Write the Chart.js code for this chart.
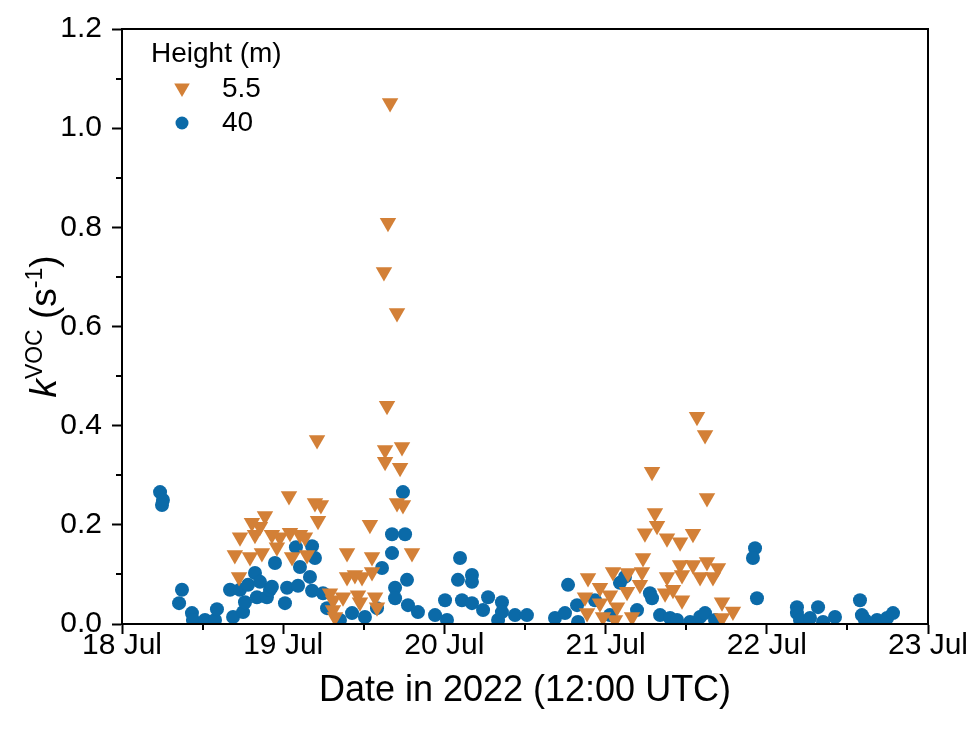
<!DOCTYPE html>
<html><head><meta charset="utf-8">
<script src="https://cdn.jsdelivr.net/npm/chart.js@4.4.0/dist/chart.umd.min.js"></script>
<style>html,body{margin:0;padding:0;background:#fff}#wrap{width:971px;height:731px;position:relative}</style>
</head><body><div id="wrap"><canvas id="c" width="971" height="731"></canvas></div>
<script>
// ---- data (x = days after 18 Jul 2022 12:00 UTC) ----
const xTickLabels = ['18 Jul','19 Jul','20 Jul','21 Jul','22 Jul','23 Jul'];
const yTickLabels = ['0.0','0.2','0.4','0.6','0.8','1.0','1.2'];
const legendTitle = 'Height (m)';
const seriesNames = ['5.5','40'];
const xTitle = 'Date in 2022 (12:00 UTC)';

const day55 = [0.70,0.726,0.732,0.794,0.806,0.825,0.856,0.868,0.887,0.93,0.961,0.98,1.036,1.042,1.055,1.104,1.135,1.148,1.21,1.197,1.234,1.216,
  1.29,1.309,1.309,1.371,1.396,1.396,1.445,1.464,1.476,1.489,1.538,1.551,1.551,1.57,1.582,1.321,
  1.625,1.65,1.663,1.706,1.644,1.632,1.632,1.737,1.725,1.706,1.743,1.799,
  2.872,2.885,2.891,2.965,2.965,2.984,3.027,3.046,3.058,3.071,3.133,3.139,3.164,3.213,3.226,3.232,3.244,3.288,3.306,3.319,
  3.369,3.381,3.381,3.418,3.462,3.462,3.474,3.474,3.542,3.542,3.567,3.586,3.617,3.629,3.629,3.666,3.697,3.722,3.79,3.722];
const k55 = [0.139,0.095,0.175,0.135,0.204,0.18,0.196,0.143,0.218,0.18,0.155,0.175,0.258,0.184,0.135,0.18,0.175,0.139,0.371,0.244,0.24,0.208,
  0.062,0.048,0.028,0.054,0.143,0.095,0.099,0.058,0.044,0.095,0.2,0.135,0.105,0.054,0.034,0.014,
  0.71,0.809,1.051,0.627,0.44,0.351,0.327,0.357,0.315,0.244,0.24,0.143,
  0.054,0.022,0.093,0.073,0.042,0.014,0.058,0.105,0.008,0.034,0.065,0.103,0.014,0.079,0.105,0.133,0.183,0.307,0.224,0.198,
  0.062,0.173,0.095,0.069,0.165,0.119,0.099,0.048,0.182,0.119,0.418,0.095,0.381,0.125,0.254,0.095,0.113,0.044,0.025,0.012];

const day40 = [0.236,0.254,0.248,0.372,0.354,0.434,0.44,0.515,0.577,0.589,0.67,0.689,0.732,0.751,0.763,0.782,0.825,0.837,0.856,0.899,
  0.918,0.93,0.949,1.011,1.024,1.092,1.079,1.104,1.166,1.179,1.197,1.179,1.247,1.272,1.352,1.427,1.507,1.582,1.613,1.675,
  1.756,1.675,1.743,1.768,1.694,1.694,1.774,1.836,1.942,2.016,2.004,2.097,2.084,2.171,2.171,2.109,2.171,2.24,2.271,2.357,
  2.333,2.357,2.438,2.512,2.686,2.748,2.767,2.823,2.829,2.934,3.027,3.089,3.12,3.195,3.275,3.288,3.338,3.4,3.443,3.524,
  3.586,3.617,3.679,3.927,3.914,3.939,4.187,4.187,4.206,4.268,4.318,4.349,4.423,4.578,4.59,4.609,4.684,4.746,4.783];
const k40 = [0.266,0.25,0.24,0.069,0.042,0.022,0.008,0.008,0.008,0.03,0.069,0.014,0.069,0.024,0.044,0.079,0.103,0.054,0.085,0.054,
  0.069,0.075,0.123,0.042,0.073,0.077,0.155,0.115,0.095,0.157,0.133,0.067,0.062,0.032,0.008,0.022,0.014,0.032,0.113,0.181,
  0.181,0.143,0.266,0.089,0.073,0.052,0.038,0.024,0.018,0.008,0.048,0.133,0.089,0.099,0.085,0.048,0.042,0.028,0.054,0.044,
  0.008,0.024,0.018,0.018,0.012,0.022,0.079,0.038,0.004,0.048,0.018,0.083,0.095,0.028,0.062,0.052,0.018,0.012,0.008,0.004,
  0.014,0.022,0.008,0.153,0.133,0.052,0.034,0.022,0.008,0.012,0.034,0.004,0.014,0.048,0.018,0.008,0.008,0.012,0.022];

const ORANGE = 'rgb(211,128,55)';
const BLUE = 'rgb(11,106,168)';
const FONT = "'Liberation Sans', Arial, sans-serif";

const toPts = (xs, ys) => xs.map((x, i) => ({x: x, y: ys[i]}));

const PLOT = {left: 122, right: 928, top: 29, bottom: 624};

const decor = {
  id: 'decor',
  afterDraw(chart) {
    const ctx = chart.ctx;
    const a = chart.chartArea;
    const xs = chart.scales.x, ys = chart.scales.y;
    ctx.save();
    ctx.strokeStyle = '#000';
    ctx.lineWidth = 2;
    // frame
    ctx.strokeRect(a.left, a.top, a.right - a.left, a.bottom - a.top);
    // minor ticks
    ctx.beginPath();
    for (let i = 0; i < 6; i++) {
      const py = Math.round(ys.getPixelForValue(i * 0.2 + 0.1));
      ctx.moveTo(a.left, py); ctx.lineTo(a.left - 6, py);
    }
    for (let i = 0; i < 5; i++) {
      const px = Math.round(xs.getPixelForValue(i + 0.5));
      ctx.moveTo(px, a.bottom); ctx.lineTo(px, a.bottom + 6);
    }
    ctx.stroke();

    // x title
    ctx.fillStyle = '#000';
    ctx.font = '36px ' + FONT;
    ctx.textAlign = 'center';
    ctx.textBaseline = 'alphabetic';
    ctx.fillText(xTitle, (a.left + a.right) / 2, 701);

    // y title: k^VOC (s^-1)
    ctx.save();
    ctx.translate(43, (a.top + a.bottom) / 2);
    ctx.rotate(-Math.PI / 2);
    const big = 37, small = 23;
    const segs = [
      {t: 'k', f: 'italic ' + big + 'px ' + FONT, dy: 0},
      {t: 'VOC', f: small + 'px ' + FONT, dy: -14},
      {t: ' (s', f: big + 'px ' + FONT, dy: 0},
      {t: '-1', f: small + 'px ' + FONT, dy: -14},
      {t: ')', f: big + 'px ' + FONT, dy: 0}
    ];
    let total = 0;
    segs.forEach(s => { ctx.font = s.f; s.w = ctx.measureText(s.t).width; total += s.w; });
    let cx = -total / 2;
    ctx.textAlign = 'left';
    segs.forEach(s => { ctx.font = s.f; ctx.fillText(s.t, cx, 13 + s.dy); cx += s.w; });
    ctx.restore();

    // legend
    ctx.font = '28px ' + FONT;
    ctx.textAlign = 'left';
    ctx.textBaseline = 'middle';
    ctx.fillText(legendTitle, 151, 54);
    ctx.fillText(seriesNames[0], 222, 89);
    ctx.fillText(seriesNames[1], 222, 123);
    ctx.fillStyle = ORANGE;
    ctx.beginPath();
    const r = 9;
    ctx.moveTo(182 - r * 0.866, 88 - r * 0.5);
    ctx.lineTo(182 + r * 0.866, 88 - r * 0.5);
    ctx.lineTo(182, 88 + r);
    ctx.closePath();
    ctx.fill();
    ctx.fillStyle = BLUE;
    ctx.beginPath();
    ctx.arc(182, 123, 6.5, 0, Math.PI * 2);
    ctx.fill();
    ctx.restore();
  }
};

new Chart(document.getElementById('c'), {
  type: 'scatter',
  data: {
    datasets: [
      {label: seriesNames[0], data: toPts(day55, k55), pointStyle: 'triangle', rotation: 180,
       pointRadius: 9.5, pointHoverRadius: 9.5, backgroundColor: ORANGE, borderColor: ORANGE, borderWidth: 0},
      {label: seriesNames[1], data: toPts(day40, k40), pointStyle: 'circle',
       pointRadius: 7, pointHoverRadius: 7, backgroundColor: BLUE, borderColor: BLUE, borderWidth: 0}
    ]
  },
  options: {
    responsive: false,
    devicePixelRatio: 1,
    animation: false,
    events: [],
    layout: {padding: {top: PLOT.top, right: 971 - PLOT.right, left: 0, bottom: 0}},
    plugins: {legend: {display: false}, tooltip: {enabled: false}},
    scales: {
      x: {
        type: 'linear', min: 0, max: 5,
        afterFit: s => { s.height = 731 - PLOT.bottom; },
        ticks: {
          stepSize: 0.5, autoSkip: false, maxRotation: 0, color: '#000', padding: -6,
          font: {family: FONT, size: 30},
          callback: v => (Math.abs(v - Math.round(v)) < 1e-6 ? xTickLabels[Math.round(v)] : '')
        },
        grid: {drawOnChartArea: false, drawTicks: true, tickLength: 10, tickWidth: 2,
               tickColor: c => (c.tick && Math.abs(c.tick.value - Math.round(c.tick.value)) < 1e-6 ? '#000' : 'rgba(0,0,0,0)')},
        border: {display: true, color: '#000', width: 2}
      },
      y: {
        type: 'linear', min: 0, max: 1.2,
        afterFit: s => { s.width = PLOT.left; },
        ticks: {
          stepSize: 0.1, autoSkip: false, color: '#000', padding: 10,
          font: {family: FONT, size: 30},
          callback: v => { const i = Math.round(v * 10); return i % 2 === 0 ? yTickLabels[i / 2] : ''; }
        },
        grid: {drawOnChartArea: false, drawTicks: true, tickLength: 10, tickWidth: 2,
               tickColor: c => (c.tick && Math.round(c.tick.value * 10) % 2 === 0 ? '#000' : 'rgba(0,0,0,0)')},
        border: {display: true, color: '#000', width: 2}
      }
    }
  },
  plugins: [decor]
});
</script>
</body></html>
